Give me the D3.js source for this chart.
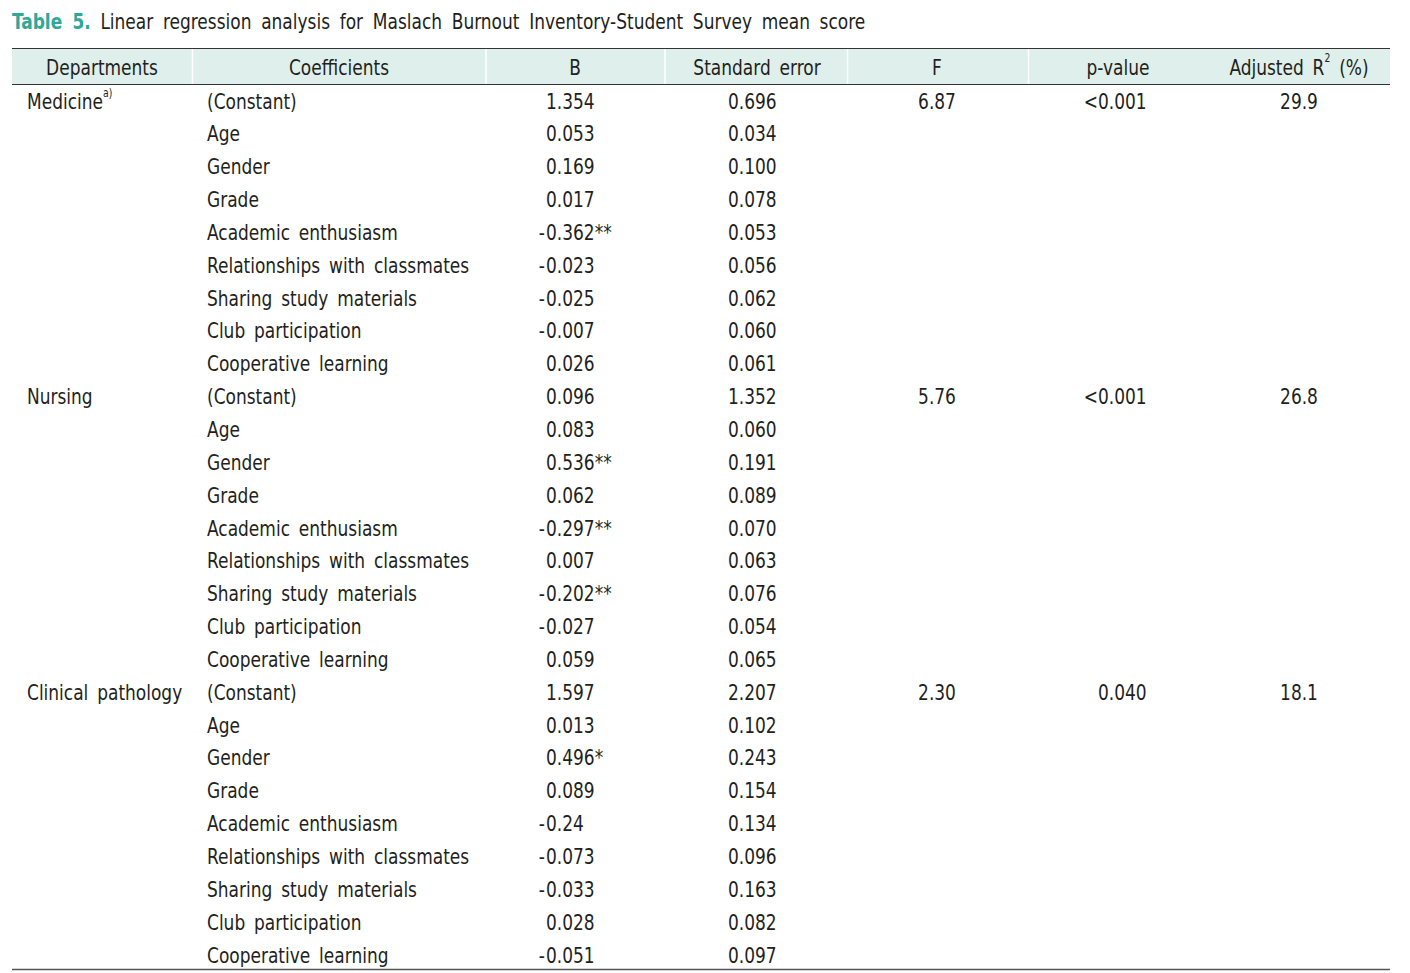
<!DOCTYPE html>
<html><head><meta charset="utf-8">
<script src="https://cdn.jsdelivr.net/npm/d3@7"></script>
<style>
body{margin:0;background:#fff;}
text{font-family:"DejaVu Sans Condensed","Liberation Sans Narrow",sans-serif;fill:#231f20;}
</style></head>
<body>
<svg id="chart" width="1410" height="973"></svg>
<script>
const titleLabel = "Table 5.";
const titleText = "Linear regression analysis for Maslach Burnout Inventory-Student Survey mean score";
const headers = ["Departments","Coefficients","B","Standard error","F","p-value","Adjusted R2 (%)"];
const departments = ["Medicine","Nursing","Clinical pathology"];
const coefficients = ["(Constant)","Age","Gender","Grade","Academic enthusiasm","Relationships with classmates","Sharing study materials","Club participation","Cooperative learning"];
const bMedicine = ["1.354","0.053","0.169","0.017","-0.362**","-0.023","-0.025","-0.007","0.026"];
const seMedicine = ["0.696","0.034","0.100","0.078","0.053","0.056","0.062","0.060","0.061"];
const bNursing = ["0.096","0.083","0.536**","0.062","-0.297**","0.007","-0.202**","-0.027","0.059"];
const seNursing = ["1.352","0.060","0.191","0.089","0.070","0.063","0.076","0.054","0.065"];
const bClinical = ["1.597","0.013","0.496*","0.089","-0.24","-0.073","-0.033","0.028","-0.051"];
const seClinical = ["2.207","0.102","0.243","0.154","0.134","0.096","0.163","0.082","0.097"];
const fValues = ["6.87","5.76","2.30"];
const pValues = ["<0.001","<0.001","0.040"];
const r2Values = ["29.9","26.8","18.1"];

const bAll = [bMedicine, bNursing, bClinical];
const seAll = [seMedicine, seNursing, seClinical];

const rows = [];
departments.forEach((d, di) => {
  coefficients.forEach((c, ci) => {
    rows.push({dept: ci === 0 ? d : "", sup: (ci === 0 && di === 0) ? "a)" : "", coef: c,
      b: bAll[di][ci], se: seAll[di][ci],
      f: ci === 0 ? fValues[di] : "", p: ci === 0 ? pValues[di] : "", r2: ci === 0 ? r2Values[di] : ""});
  });
});

const svg = d3.select("#chart");
const FS = 22, SX = 0.86;
const y = d3.scalePoint().domain(d3.range(rows.length)).range([101, 955]);
const left = 12, right = 1390;
const seps = [192.5, 486, 665, 847.5, 1028.5];
const headerX = [102, 339, 575, 757, 937, 1118, 1299];

function txt(parent, x, yy, anchor) {
  return parent.append("g").attr("transform", `translate(${x},${yy}) scale(${SX},1)`)
    .append("text").attr("x", 0).attr("y", 0).attr("dominant-baseline", "central")
    .attr("text-anchor", anchor || "start").style("font-size", FS + "px").style("word-spacing", "4px");
}

// title
const t = svg.append("g").attr("transform", `translate(12,29) scale(${SX},1)`).append("text")
  .style("font-size", "22px").style("word-spacing", "5px");
t.append("tspan").text(titleLabel).style("font-weight", "bold").style("fill", "#2ea898");
t.append("tspan").text(" " + titleText).style("fill", "#231f20");

// header band
svg.append("rect").attr("x", left).attr("y", 48.5).attr("width", right - left).attr("height", 36).attr("fill", "#dfefeb");
seps.forEach(s => svg.append("line").attr("x1", s).attr("x2", s).attr("y1", 49).attr("y2", 84).attr("stroke", "#fff").attr("stroke-width", 1.5));
svg.append("line").attr("x1", left).attr("x2", right).attr("y1", 48.5).attr("y2", 48.5).attr("stroke", "#333").attr("stroke-width", 1.2);
svg.append("line").attr("x1", left).attr("x2", right).attr("y1", 84.5).attr("y2", 84.5).attr("stroke", "#333").attr("stroke-width", 1.2);
svg.append("line").attr("x1", left).attr("x2", right).attr("y1", 969.5).attr("y2", 969.5).attr("stroke", "#555").attr("stroke-width", 1.5);

headers.forEach((h, i) => {
  const tx = txt(svg, headerX[i], 67, "middle");
  if (h === "Adjusted R2 (%)") {
    tx.append("tspan").text("Adjusted R");
    tx.append("tspan").text("2").attr("dy", -9).style("font-size", "12px");
    tx.append("tspan").text(" (%)").attr("dy", 9);
  } else tx.text(h);
});

const g = svg.append("g");
rows.forEach((r, i) => {
  const yy = y(i);
  if (r.dept) {
    const tx = txt(g, 27, yy);
    tx.append("tspan").text(r.dept);
    if (r.sup) tx.append("tspan").text(r.sup).attr("dy", -8).style("font-size", "12px");
  }
  txt(g, 207, yy).text(r.coef);
  const neg = r.b.startsWith("-");
  if (neg) txt(g, 545, yy, "end").text("-");
  txt(g, 546, yy).text(neg ? r.b.slice(1) : r.b);
  txt(g, 728, yy).text(r.se);
  if (r.f) txt(g, 937, yy, "middle").text(r.f);
  if (r.p) {
    const lt = r.p.startsWith("<");
    if (lt) txt(g, 1098, yy, "end").text("<");
    txt(g, 1098, yy).text(lt ? r.p.slice(1) : r.p);
  }
  if (r.r2) txt(g, 1299, yy, "middle").text(r.r2);
});
</script>
</body></html>
